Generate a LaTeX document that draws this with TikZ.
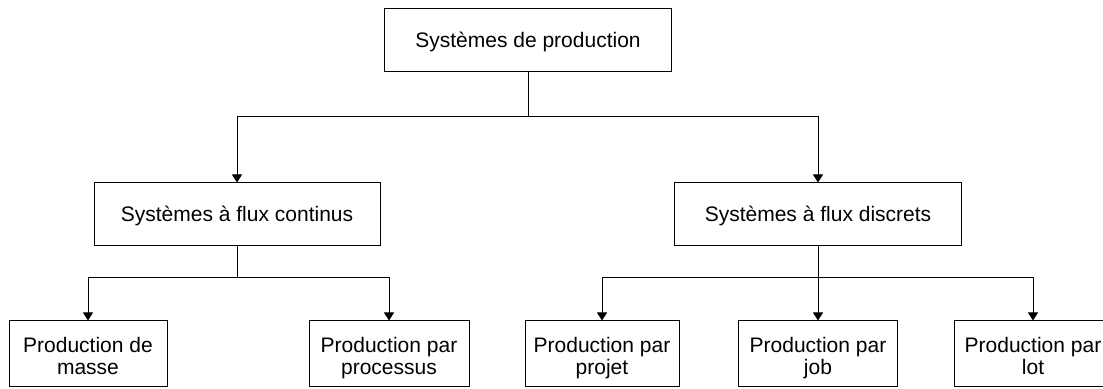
\documentclass[tikz,border=0pt]{standalone}
\usepackage{fontspec}
\setmainfont{Liberation Sans}
\usetikzlibrary{arrows.meta}
\newcommand{\twolines}[2]{\rule{0pt}{13pt}#1\\#2\rule[-3pt]{0pt}{0pt}}
\begin{document}
\begin{tikzpicture}[x=0.5pt,y=-0.5pt,
  box/.style={draw,line width=0.5pt,inner sep=0pt,align=center,
    font=\fontsize{10.5}{11}\selectfont},
  top/.style={box,minimum height=31.5pt,text height=9.5pt,text depth=2pt},
  leaf/.style={box,minimum height=33pt},
  conn/.style={line width=0.5pt},
  arr/.style={conn,-{Triangle[length=4pt,width=5pt]}}]
\clip (0,0) rectangle (1103,389);
\fill[white] (0,0) rectangle (1103,389);
\node[top,minimum width=143.5pt] (sp) at (528,40.5) {Systèmes de production};
\node[top,minimum width=143pt] (cont) at (237,214.5) {Systèmes à flux continus};
\node[top,minimum width=143.5pt] (disc) at (818,214.5) {Systèmes à flux discrets};
\node[leaf,minimum width=79pt] (masse) at (88,354) {\twolines{Production de}{masse}};
\node[leaf,minimum width=80pt] (proc) at (389,354) {\twolines{Production par}{processus}};
\node[leaf,minimum width=77pt] (projet) at (602,354) {\twolines{Production par}{projet}};
\node[leaf,minimum width=79.5pt] (job) at (818,354) {\twolines{Production par}{job}};
\node[leaf,minimum width=79pt] (lot) at (1033,354) {\twolines{Production par}{lot}};
\coordinate (j1) at (528,117);
\coordinate (j2) at (237,278);
\coordinate (j3) at (818,278);
\draw[conn] (sp.south) -- (j1);
\draw[arr] (j1) -| (cont.north);
\draw[arr] (j1) -| (disc.north);
\draw[conn] (cont.south) -- (j2);
\draw[arr] (j2) -| (masse.north);
\draw[arr] (j2) -| (proc.north);
\draw[conn] (disc.south) -- (j3);
\draw[arr] (j3) -| (projet.north);
\draw[arr] (j3) -- (job.north);
\draw[arr] (j3) -| (lot.north);
\end{tikzpicture}
\end{document}
